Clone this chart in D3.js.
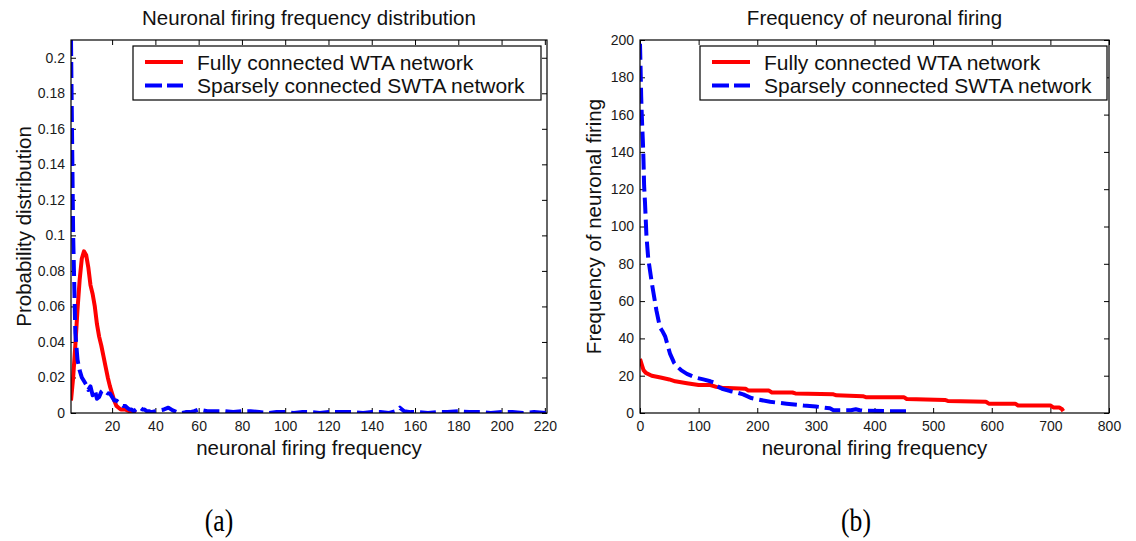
<!DOCTYPE html>
<html>
<head>
<meta charset="utf-8">
<script src="https://cdn.jsdelivr.net/npm/d3@7"></script>
<style>
  body { margin: 0; background: #fff; }
  svg { display: block; font-family: Arial, "Liberation Sans", sans-serif; }
</style>
</head>
<body>
<svg id="chart" width="1136" height="541"></svg>
<script>
// ---- Panel (a): probability distribution of firing frequency ----
const wtaDistX = [1, 2, 3, 4, 5, 6, 7, 8, 9, 10, 11, 12, 13, 14, 15, 16, 17, 18, 19, 20,
                  21, 22, 23, 24, 25, 26, 27, 28, 29, 30, 31];
const wtaDistP = [0.007, 0.02, 0.038, 0.058, 0.075, 0.087, 0.091, 0.089, 0.082, 0.072, 0.067,
                  0.06, 0.05, 0.043, 0.038, 0.032, 0.026, 0.02, 0.015, 0.011, 0.007, 0.004,
                  0.003, 0.002, 0.002, 0.002, 0.0015, 0.001, 0.001, 0.0005, 0];

const swtaDistX = [1, 2, 3, 4, 5, 6, 7, 8, 9, 10, 11, 12, 13, 14, 15, 16, 17, 18, 19, 20,
                   21, 22, 23, 24, 25, 26, 27, 28, 29, 30, 31, 32, 33, 34, 35, 36, 37, 38, 40,
                   42, 44, 46, 48, 50, 52, 54, 56, 58, 60, 62, 64, 68, 72, 76, 80, 84, 88, 92,
                   96, 100, 104, 108, 112, 116, 120, 124, 128, 132, 136, 140, 144, 148, 151,
                   153, 155, 158, 162, 166, 170, 175, 180, 185, 190, 195, 200, 205, 210, 215, 221];
const swtaDistP = [0.21, 0.1, 0.045, 0.03, 0.024, 0.02, 0.018, 0.016, 0.013, 0.015, 0.01, 0.013,
                   0.008, 0.009, 0.012, 0.013, 0.012, 0.011, 0.011, 0.009, 0.007, 0.007, 0.006,
                   0.005, 0.004, 0.004, 0.003, 0.002, 0.002, 0.001, 0.002, 0.003, 0.003, 0.002,
                   0.002, 0.001, 0.001, 0.0005, 0.001, 0.0015, 0.002, 0.003, 0.0015, 0.0005, 0,
                   0.0005, 0.0005, 0.001, 0.002, 0.0015, 0.001, 0.001, 0.001, 0.0005, 0.001,
                   0.001, 0.0005, 0, 0.0005, 0.0005, 0, 0.0005, 0.0005, 0, 0.0005, 0.0005,
                   0.0005, 0.0005, 0, 0.0005, 0.0005, 0, 0.001, 0.003, 0.001, 0.0005, 0.0005,
                   0, 0.0005, 0.0005, 0.001, 0.0005, 0.0005, 0, 0.0005, 0.0005, 0, 0.0005, 0];

const distXTicks = [20, 40, 60, 80, 100, 120, 140, 160, 180, 200, 220];
const distYTicks = [0, 0.02, 0.04, 0.06, 0.08, 0.1, 0.12, 0.14, 0.16, 0.18, 0.2];

// ---- Panel (b): sorted firing counts per neuron ----
const wtaRankX = [0, 3, 6, 10, 20, 35, 50, 60, 80, 100, 120, 130, 140, 180, 185, 220, 225, 260,
                  265, 330, 335, 380, 385, 450, 455, 520, 525, 590, 595, 640, 645, 700, 705,
                  715, 720, 722];
const wtaRankF = [29, 26, 23, 21.5, 20, 19, 18, 17, 16, 15, 15, 14, 13.5, 13, 12, 12, 11, 11,
                  10.5, 10, 9.5, 9, 8.5, 8.5, 7.5, 7, 6.5, 6, 5, 5, 4, 4, 3, 3, 2, 1];

const swtaRankX = [0, 1, 2, 3, 4, 5, 6, 7, 8.5, 11, 14, 20, 28, 34, 38, 43, 51, 58, 63, 70, 80,
                   95, 108, 120, 125, 131, 140, 154, 165, 176, 190, 199, 222, 250, 279, 300,
                   324, 330, 360, 368, 375, 381, 420, 450, 455];
const swtaRankF = [198, 185, 170, 160, 152, 145, 135, 122, 113, 95, 83, 70, 55, 46, 44, 41, 32,
                   27, 25, 23, 21, 19, 18, 17, 16.5, 14.5, 13, 11.7, 11, 10, 8, 7.4, 6, 5, 4,
                   3.5, 2.5, 1.5, 1.5, 2, 1.5, 1.2, 1, 1, 1];

const rankXTicks = [0, 100, 200, 300, 400, 500, 600, 700, 800];
const rankYTicks = [0, 20, 40, 60, 80, 100, 120, 140, 160, 180, 200];

const seriesNames = ["Fully connected WTA network", "Sparsely connected SWTA network"];
const seriesColors = ["#ff0000", "#0000ff"];

const svg = d3.select("#chart");
svg.append("rect").attr("width", 1136).attr("height", 541).attr("fill", "#fff");

function drawPanel(cfg) {
  const { left, right, top, bottom } = cfg.box;
  const x = d3.scaleLinear().domain(cfg.xDomain).range([left, right]);
  const y = d3.scaleLinear().domain(cfg.yDomain).range([bottom, top]);
  const g = svg.append("g");

  const clipId = "clip-" + cfg.id;
  svg.append("clipPath").attr("id", clipId)
    .append("rect").attr("x", left).attr("y", top)
    .attr("width", right - left).attr("height", bottom - top);

  // axes with inward ticks on all four sides
  const styleAxis = sel => {
    sel.select(".domain").remove();
    sel.selectAll(".tick line").attr("stroke", "#000").attr("stroke-width", 1);
    sel.selectAll(".tick text").attr("fill", "#1a1a1a").style("font-size", "14px")
      .style("font-family", "Arial, 'Liberation Sans', sans-serif");
  };
  g.append("g").attr("transform", `translate(0,${bottom})`)
    .call(d3.axisBottom(x).tickValues(cfg.xTicks).tickSize(-5).tickPadding(8)
      .tickFormat(cfg.xFormat)).call(styleAxis);
  g.append("g").attr("transform", `translate(0,${top})`)
    .call(d3.axisTop(x).tickValues(cfg.xTicks).tickSize(-5).tickFormat("")).call(styleAxis);
  g.append("g").attr("transform", `translate(${left},0)`)
    .call(d3.axisLeft(y).tickValues(cfg.yTicks).tickSize(-5).tickPadding(6)
      .tickFormat(cfg.yFormat)).call(styleAxis);
  g.append("g").attr("transform", `translate(${right},0)`)
    .call(d3.axisRight(y).tickValues(cfg.yTicks).tickSize(-5).tickFormat("")).call(styleAxis);

  // series
  const line = d3.line().x(d => x(d[0])).y(d => y(d[1]));
  const plot = g.append("g").attr("clip-path", `url(#${clipId})`);
  plot.append("path").datum(d3.zip(cfg.redX, cfg.redY))
    .attr("d", line).attr("fill", "none").attr("stroke", seriesColors[0])
    .attr("stroke-width", 4).attr("stroke-linejoin", "round");
  plot.append("path").datum(d3.zip(cfg.blueX, cfg.blueY))
    .attr("d", line).attr("fill", "none").attr("stroke", seriesColors[1])
    .attr("stroke-width", 4).attr("stroke-dasharray", "16,6").attr("stroke-linejoin", "round");

  // axes box
  g.append("rect").attr("x", left).attr("y", top)
    .attr("width", right - left).attr("height", bottom - top)
    .attr("fill", "none").attr("stroke", "#000").attr("stroke-width", 1.2);

  // title and labels
  g.append("text").attr("x", (left + right) / 2).attr("y", 25)
    .attr("text-anchor", "middle").style("font-size", "20.5px").attr("fill", "#111")
    .text(cfg.title);
  g.append("text").attr("x", (left + right) / 2).attr("y", 455)
    .attr("text-anchor", "middle").style("font-size", "20.5px").attr("fill", "#111")
    .text(cfg.xLabel);
  g.append("text")
    .attr("transform", `translate(${cfg.yLabelX},${(top + bottom) / 2}) rotate(-90)`)
    .attr("text-anchor", "middle").style("font-size", "20.5px").attr("fill", "#111")
    .text(cfg.yLabel);

  // legend
  const lg = g.append("g");
  const lx = cfg.legend.x, ly = 46, lw = cfg.legend.w, lh = 54;
  lg.append("rect").attr("x", lx).attr("y", ly).attr("width", lw).attr("height", lh)
    .attr("fill", "#fff").attr("stroke", "#000").attr("stroke-width", 1.2);
  seriesNames.forEach((name, i) => {
    const cy = ly + 16 + i * 23.5;
    lg.append("line").attr("x1", lx + 12).attr("x2", lx + 50)
      .attr("y1", cy).attr("y2", cy)
      .attr("stroke", seriesColors[i]).attr("stroke-width", 4)
      .attr("stroke-dasharray", i === 1 ? "17,5" : null);
    lg.append("text").attr("x", lx + 64).attr("y", cy + 7.5)
      .style("font-size", "21px").attr("fill", "#111").text(name);
  });

  // sub-figure caption
  svg.append("text")
    .attr("transform", `translate(${cfg.captionX},531) scale(0.8,1)`)
    .attr("text-anchor", "middle")
    .style("font-family", "'Liberation Serif', 'Times New Roman', serif")
    .style("font-size", "32px").attr("fill", "#000")
    .text(cfg.caption);
}

drawPanel({
  id: "a",
  box: { left: 71, right: 547, top: 40, bottom: 413 },
  xDomain: [1, 221], yDomain: [0, 0.21],
  xTicks: distXTicks, yTicks: distYTicks,
  xFormat: d => String(d), yFormat: d => String(+d.toFixed(2)),
  redX: wtaDistX, redY: wtaDistP, blueX: swtaDistX, blueY: swtaDistP,
  title: "Neuronal firing frequency distribution",
  xLabel: "neuronal firing frequency",
  yLabel: "Probability distribution", yLabelX: 31,
  legend: { x: 133, w: 408 },
  caption: "(a)", captionX: 219
});

drawPanel({
  id: "b",
  box: { left: 640, right: 1109, top: 40, bottom: 413 },
  xDomain: [0, 800], yDomain: [0, 200],
  xTicks: rankXTicks, yTicks: rankYTicks,
  xFormat: d => String(d), yFormat: d => String(d),
  redX: wtaRankX, redY: wtaRankF, blueX: swtaRankX, blueY: swtaRankF,
  title: "Frequency of neuronal firing",
  xLabel: "neuronal firing frequency",
  yLabel: "Frequency of neuronal firing", yLabelX: 601,
  legend: { x: 700, w: 407 },
  caption: "(b)", captionX: 856
});
</script>
</body>
</html>
